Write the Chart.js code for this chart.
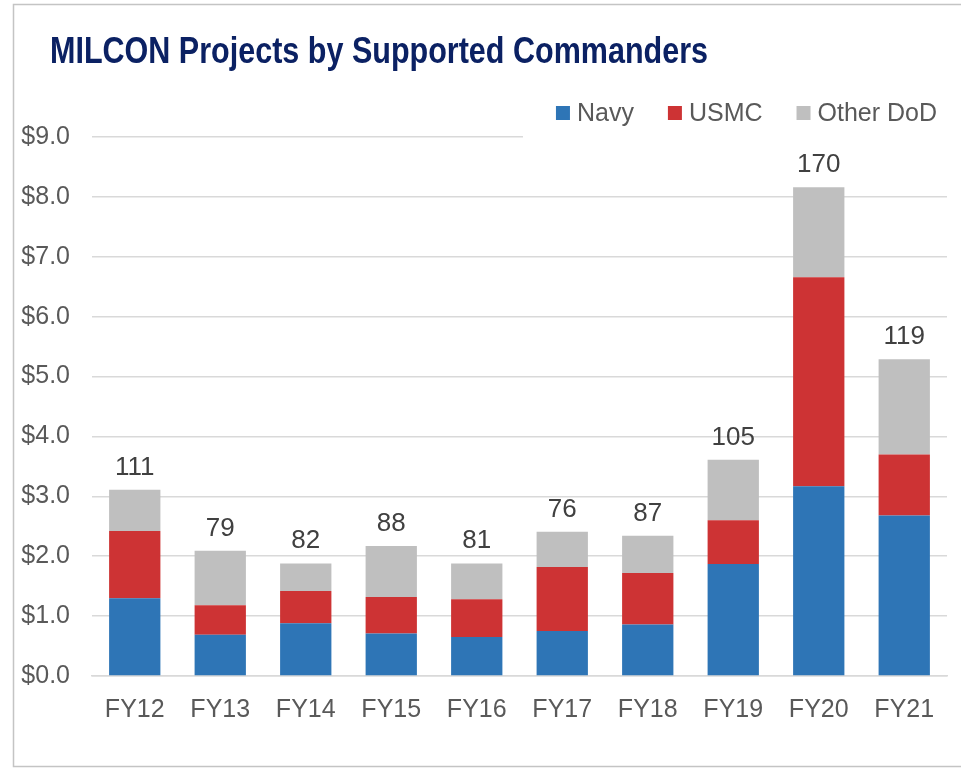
<!DOCTYPE html>
<html>
<head>
<meta charset="utf-8">
<script src="https://cdn.jsdelivr.net/npm/chart.js@4"></script>
<style>
  html, body { margin: 0; padding: 0; background: #fff; }
  #wrap { position: relative; width: 961px; height: 769px; }
</style>
</head>
<body>
<div id="wrap"><canvas id="myChart" width="961" height="769"></canvas></div>
<script>
const years = ['FY12', 'FY13', 'FY14', 'FY15', 'FY16', 'FY17', 'FY18', 'FY19', 'FY20', 'FY21'];
const navy = [1.30, 0.69, 0.88, 0.71, 0.65, 0.75, 0.86, 1.87, 3.17, 2.68];
const usmc = [1.12, 0.49, 0.54, 0.61, 0.63, 1.07, 0.86, 0.73, 3.49, 1.02];
const otherDod = [0.69, 0.91, 0.46, 0.85, 0.60, 0.59, 0.62, 1.01, 1.50, 1.59];
const projectCounts = [111, 79, 82, 88, 81, 76, 87, 105, 170, 119];
const yTicks = [0, 1, 2, 3, 4, 5, 6, 7, 8, 9];

const titleText = 'MILCON Projects by Supported Commanders';
const baseFont = "'Liberation Sans', Arial, sans-serif";

// frame, title, legend and the project counts above each bar
const decorations = {
  id: 'decorations',
  beforeDraw(chart) {
    const c = chart.ctx;
    c.save();
    c.strokeStyle = '#c4c4c4';
    c.lineWidth = 1.5;
    c.strokeRect(13.5, 4.5, 1000, 762);
    c.restore();
  },
  afterDraw(chart) {
    const c = chart.ctx;
    const area = chart.chartArea;
    c.save();

    // title (condensed bold, squeezed if no narrow face is installed)
    c.font = "bold 36px 'Liberation Sans Narrow', 'Arial Narrow', " + baseFont;
    c.fillStyle = '#0b2163';
    c.textBaseline = 'alphabetic';
    c.textAlign = 'left';
    const tw = c.measureText(titleText).width;
    const want = 658;
    c.translate(50, 63);
    if (tw > want) c.scale(want / tw, 1);
    c.fillText(titleText, 0, 0);
    c.setTransform(1, 0, 0, 1, 0, 0);

    // legend, right aligned, with white backing over the top gridline
    c.font = '25px ' + baseFont;
    const items = chart.data.datasets.map(d => ({ text: d.label, color: d.backgroundColor }));
    const box = 14, boxGap = 7, itemGap = 34;
    let total = 0;
    items.forEach((it, i) => {
      it.w = c.measureText(it.text).width;
      total += box + boxGap + it.w + (i ? itemGap : 0);
    });
    let x = area.right - 10 - total;
    c.fillStyle = '#fff';
    c.fillRect(x - 33, area.top - 5, area.right - x + 40, 9);
    items.forEach(it => {
      c.fillStyle = it.color;
      c.fillRect(x, 106, box, box);
      c.fillStyle = '#595959';
      c.fillText(it.text, x + box + boxGap, 121);
      x += box + boxGap + it.w + itemGap;
    });

    // counts above stacked totals
    const top = chart.getDatasetMeta(chart.data.datasets.length - 1);
    c.font = '26px ' + baseFont;
    c.fillStyle = '#404040';
    c.textAlign = 'center';
    top.data.forEach((bar, i) => {
      c.fillText(projectCounts[i], bar.x, bar.y - 15);
    });
    c.restore();
  }
};

const ctx = document.getElementById('myChart');

new Chart(ctx, {
  type: 'bar',
  data: {
    labels: years,
    datasets: [
      { label: 'Navy', data: navy, backgroundColor: '#2e75b6' },
      { label: 'USMC', data: usmc, backgroundColor: '#cd3334' },
      { label: 'Other DoD', data: otherDod, backgroundColor: '#bfbfbf' }
    ]
  },
  options: {
    responsive: false,
    animation: false,
    devicePixelRatio: 1,
    layout: { padding: { left: 18, right: 14, top: 137, bottom: 43 } },
    datasets: {
      bar: { barPercentage: 0.6, categoryPercentage: 1.0, borderWidth: 0 }
    },
    plugins: {
      legend: { display: false },
      title: { display: false },
      tooltip: { enabled: false }
    },
    scales: {
      x: {
        stacked: true,
        grid: { display: false, drawTicks: false },
        border: { display: true, color: '#d9d9d9', width: 1.5 },
        ticks: { color: '#595959', font: { family: baseFont, size: 25 }, padding: 19, maxRotation: 0 },
        afterFit(s) { s.height = 50; }
      },
      y: {
        stacked: true,
        min: 0,
        max: 9,
        afterBuildTicks(s) { s.ticks = yTicks.map(v => ({ value: v })); },
        grid: { color: '#d9d9d9', lineWidth: 1.5, drawTicks: false },
        border: { display: false },
        ticks: {
          color: '#595959',
          font: { family: baseFont, size: 25 },
          padding: 22,
          callback: v => '$' + Number(v).toFixed(1)
        },
        afterFit(s) { s.width = 74; }
      }
    }
  },
  plugins: [decorations]
});
</script>
</body>
</html>
